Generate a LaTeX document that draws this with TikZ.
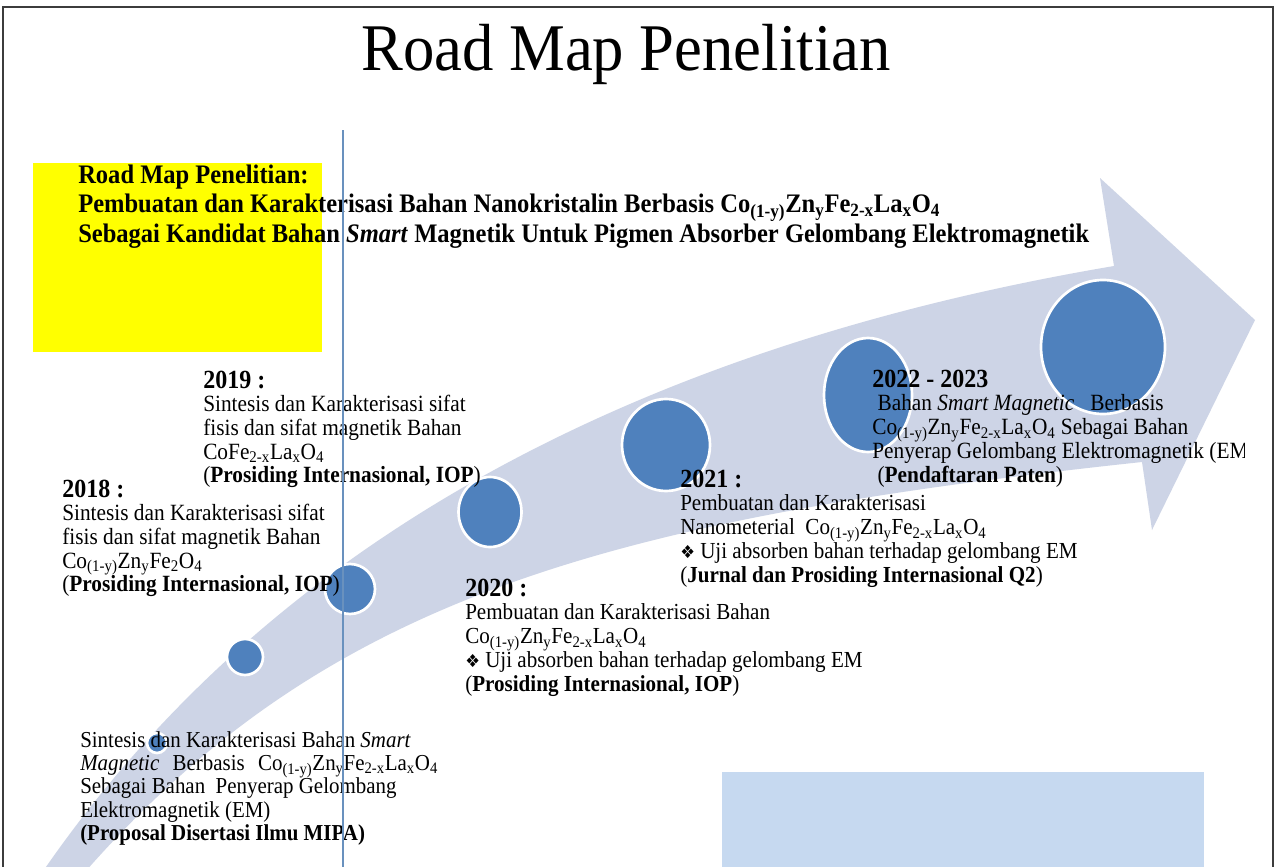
\documentclass[tikz,border=0pt]{standalone}
\usepackage{fontspec}
\setmainfont{Liberation Serif}
\newfontfamily\symfont{DejaVu Sans}
\usetikzlibrary{shapes.geometric}
\definecolor{bandc}{RGB}{205,212,230}
\definecolor{dotc}{RGB}{79,129,189}
\definecolor{rectc}{RGB}{198,217,240}
\definecolor{vlinec}{RGB}{105,145,190}
\definecolor{framec}{RGB}{60,60,60}
\definecolor{yel}{RGB}{255,255,0}
\newcommand{\czflo}{Co\textsubscript{(1-y)}Zn\textsubscript{y}Fe\textsubscript{2-x}La\textsubscript{x}O\textsubscript{4}}
\newcommand{\dia}{{\symfont\scalebox{0.78}{❖}}\ }
\newcommand{\yr}[1]{{\fontsize{18}{18}\selectfont\bfseries #1}}
\newcommand{\vs}[1]{\scalebox{1}[1.09]{#1}}
\lineskiplimit=-100pt
\begin{document}
\begin{tikzpicture}[x=0.75pt,y=-0.75pt,
  dot/.style={ellipse, fill=dotc, draw=white, line width=2pt, inner sep=0},
  txt/.style={anchor=base west, inner sep=0, font=\fontsize{16}{16.3}\selectfont},
  vline/.style={draw=vlinec, line width=0.9pt}]
\useasboundingbox (0,0) rectangle (1278,867);
\clip (0,0) rectangle (1278,867);
\fill[white] (0,0) rectangle (1278,867);
% frame
\draw[framec, line width=1.5pt] (3,7) rectangle (1273,900);
% yellow box
\fill[yel] (33,163) rectangle (322,352);
% curved arrow
\fill[bandc] (37,880) .. controls (200,640) and (500,370) .. (1114,266)
  -- (1100,178) -- (1255,320) -- (1152,530) -- (1142,462)
  .. controls (600,520) and (320,600) .. (78,880) -- cycle;
% circles
\node[dot, minimum width=20pt*0.75, minimum height=20pt*0.75] (c0) at (157,743) {};
\node[dot, minimum width=36pt*0.75, minimum height=36pt*0.75] (c1) at (245,657) {};
\node[dot, minimum width=50pt*0.75, minimum height=50pt*0.75] (c2) at (350,589) {};
\node[dot, minimum width=63pt*0.75, minimum height=70pt*0.75] (c3) at (490,512) {};
\node[dot, minimum width=88pt*0.75, minimum height=92pt*0.75] (c4) at (666,445) {};
\node[dot, minimum width=88pt*0.75, minimum height=114pt*0.75] (c5) at (868,395) {};
\node[dot, minimum width=124pt*0.75, minimum height=134pt*0.75] (c6) at (1103,347) {};
% bottom-right rectangle
\fill[rectc] (722,772) rectangle (1204,900);
% title
\node[anchor=base, inner sep=0, font=\fontsize{50}{52}\selectfont] (title) at (626,70) {\scalebox{0.94}[1]{Road Map Penelitian}};
% header
\node[anchor=base west, inner sep=0, font=\bfseries\fontsize{18.4}{20.6}\selectfont] (head) at (78,183)
  {\vs{\parbox[t]{900pt}{Road Map Penelitian:\\
  Pembuatan dan Karakterisasi Bahan Nanokristalin Berbasis \czflo\\
  Sebagai Kandidat Bahan \textit{Smart} Magnetik Untuk Pigmen Absorber Gelombang Elektromagnetik}}};
% text blocks
\node[txt] (t2019) at (203,388) {\vs{\parbox[t]{400pt}{\yr{2019 :}\\
  Sintesis dan Karakterisasi sifat\\
  fisis dan sifat magnetik Bahan\\
  CoFe\textsubscript{2-x}La\textsubscript{x}O\textsubscript{4}\\
  (\textbf{Prosiding Internasional, IOP})}}};
\node[txt] (t2018) at (62,497) {\vs{\parbox[t]{400pt}{\yr{2018 :}\\
  Sintesis dan Karakterisasi sifat\\
  fisis dan sifat magnetik Bahan\\
  Co\textsubscript{(1-y)}Zn\textsubscript{y}Fe\textsubscript{2}O\textsubscript{4}\\
  (\textbf{Prosiding Internasional, IOP})}}};
\node[txt, font=\fontsize{15.7}{16.15}\selectfont] (t2017) at (80,747) {\vs{\parbox[t]{400pt}{Sintesis dan Karakterisasi Bahan \textit{Smart}\\
  \textit{Magnetic}\hspace{10pt}Berbasis\hspace{10pt}\czflo\\
  Sebagai Bahan\ \ Penyerap Gelombang\\
  Elektromagnetik (EM)\\
  \textbf{(Proposal Disertasi Ilmu MIPA)}}}};
\node[txt, font=\fontsize{15.8}{16.5}\selectfont] (t2020) at (465,596) {\vs{\parbox[t]{400pt}{\yr{2020 :}\\
  Pembuatan dan Karakterisasi Bahan\\
  \czflo\\
  \dia Uji absorben bahan terhadap gelombang EM\\
  (\textbf{Prosiding Internasional, IOP})}}};
\node[txt, font=\fontsize{15.8}{16.5}\selectfont] (t2021) at (680,487) {\vs{\parbox[t]{400pt}{\yr{2021 :}\\
  Pembuatan dan Karakterisasi\\
  Nanometerial\ \ \czflo\\
  \dia Uji absorben bahan terhadap gelombang EM\\
  (\textbf{Jurnal dan Prosiding Internasional Q2})}}};
\begin{scope}
\clip (0,0) rectangle (1244,867);
\node[txt, font=\fontsize{16}{16.5}\selectfont] (t2022) at (872,387) {\vs{\parbox[t]{400pt}{\yr{2022 - 2023}\\
  \hspace*{4pt}Bahan \textit{Smart Magnetic}\ \ \ Berbasis\\
  \czflo\ Sebagai Bahan\\
  Penyerap Gelombang Elektromagnetik (EM)\\
  \hspace*{4pt}(\textbf{Pendaftaran Paten})}}};
\end{scope}
% vertical line
\coordinate (vtop) at (343,130);
\coordinate (vbot) at (343,867);
\draw[vline] (vtop) -- (vbot);
\end{tikzpicture}
\end{document}
